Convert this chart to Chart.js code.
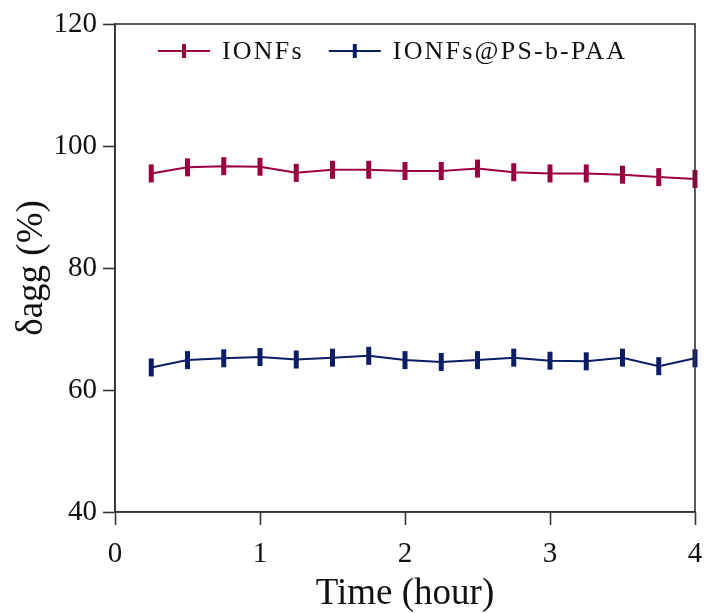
<!DOCTYPE html>
<html>
<head>
<meta charset="utf-8">
<script src="https://cdn.jsdelivr.net/npm/chart.js@4.4.0/dist/chart.umd.min.js"></script>
<style>
  html, body { margin: 0; padding: 0; background: #fff; overflow: hidden; }
  #wrap { width: 706px; height: 613px; overflow: hidden; }
</style>
</head>
<body>
<div id="wrap"><canvas id="aggChart" width="709" height="613"></canvas></div>
<script>
// values
const hours = [0.25, 0.5, 0.75, 1, 1.25, 1.5, 1.75, 2, 2.25, 2.5, 2.75, 3, 3.25, 3.5, 3.75, 4];
const ionfs = [95.5, 96.5, 96.7, 96.6, 95.6, 96.1, 96.1, 95.9, 95.9, 96.3, 95.7, 95.5, 95.5, 95.3, 94.9, 94.6];
const ionfsPaa = [63.7, 64.9, 65.2, 65.4, 65.0, 65.3, 65.6, 64.9, 64.6, 64.9, 65.3, 64.8, 64.7, 65.3, 63.9, 65.2];
const seriesNames = ['IONFs', 'IONFs@PS-b-PAA'];
const xTicks = [0, 1, 2, 3, 4];
const yTicks = [40, 60, 80, 100, 120];

const red = '#9a003f';
const blue = '#0a1d66';
const serif = '"Liberation Serif", "DejaVu Serif", serif';

const toPts = (vals) => hours.map((h, i) => ({x: h, y: vals[i]}));

// box round the plot + legend drawn inside the top of the plot
const frame = {
    id: 'frame',
    afterDraw(chart){
        const a = chart.chartArea, ctx = chart.ctx;
        ctx.save();
        ctx.strokeStyle = '#333';
        ctx.lineWidth = 1.6;
        ctx.strokeRect(a.left, a.top, a.right - a.left, a.bottom - a.top);

        const y = 51;
        let x = 158;
        ctx.font = '26px "Liberation Serif"';
        ctx.letterSpacing = '2.2px';
        ctx.textBaseline = 'middle';
        ctx.textAlign = 'left';
        chart.data.datasets.forEach(d => {
            ctx.strokeStyle = d.borderColor;
            ctx.lineWidth = 2;
            ctx.beginPath(); ctx.moveTo(x, y); ctx.lineTo(x + 52, y); ctx.stroke();
            ctx.lineWidth = 4;
            ctx.beginPath(); ctx.moveTo(x + 26, y - 7); ctx.lineTo(x + 26, y + 7); ctx.stroke();
            ctx.fillStyle = '#111';
            ctx.fillText(d.label, x + 64, y + 1);
            x += 64 + ctx.measureText(d.label).width + 25;
        });
        ctx.restore();
    }
};

const ctx = document.getElementById('aggChart').getContext('2d');
let chart = new Chart(ctx, {
    type: 'line',
    data: {
        datasets: [
            {label: seriesNames[0], data: toPts(ionfs), borderColor: red, backgroundColor: red,
             borderWidth: 2, pointStyle: 'line', rotation: 90, pointRadius: 9,
             pointBorderWidth: 5, pointBorderColor: red, tension: 0},
            {label: seriesNames[1], data: toPts(ionfsPaa), borderColor: blue, backgroundColor: blue,
             borderWidth: 2, pointStyle: 'line', rotation: 90, pointRadius: 9,
             pointBorderWidth: 5, pointBorderColor: blue, tension: 0}
        ]
    },
    options: {
        responsive: false,
        animation: false,
        clip: false,
        layout: {padding: {top: 24, right: 8, left: 0, bottom: 0}},
        plugins: {
            tooltip: {enabled: false},
            legend: {display: false}
        },
        scales: {
            x: {
                type: 'linear', min: 0, max: 4,
                afterBuildTicks: (s) => { s.ticks = xTicks.map(v => ({value: v})); },
                afterFit: (s) => { s.height = 101; s.paddingLeft = 0; s.paddingRight = 0; },
                grid: {drawOnChartArea: false, tickLength: 13, tickColor: '#333', tickWidth: 1.6},
                border: {color: '#333', width: 1.6},
                ticks: {color: '#111', font: {family: serif, size: 29}, padding: 12, maxRotation: 0},
                title: {display: true, text: 'Time (hour)', color: '#111',
                        font: {family: serif, size: 37}, padding: {top: 0, bottom: -3}}
            },
            y: {
                min: 40, max: 120,
                afterBuildTicks: (s) => { s.ticks = yTicks.map(v => ({value: v})); },
                afterFit: (s) => { s.width = 115; s.paddingTop = 0; s.paddingBottom = 0; },
                grid: {drawOnChartArea: false, tickLength: 12, tickColor: '#333', tickWidth: 1.6},
                border: {color: '#333', width: 1.6},
                ticks: {color: '#111', font: {family: serif, size: 29}, padding: 6},
                title: {display: true, text: 'δagg (%)', color: '#111',
                        font: {family: serif, size: 37}, padding: {top: 10, bottom: 4}}
            }
        }
    },
    plugins: [frame]
});
</script>
</body>
</html>
